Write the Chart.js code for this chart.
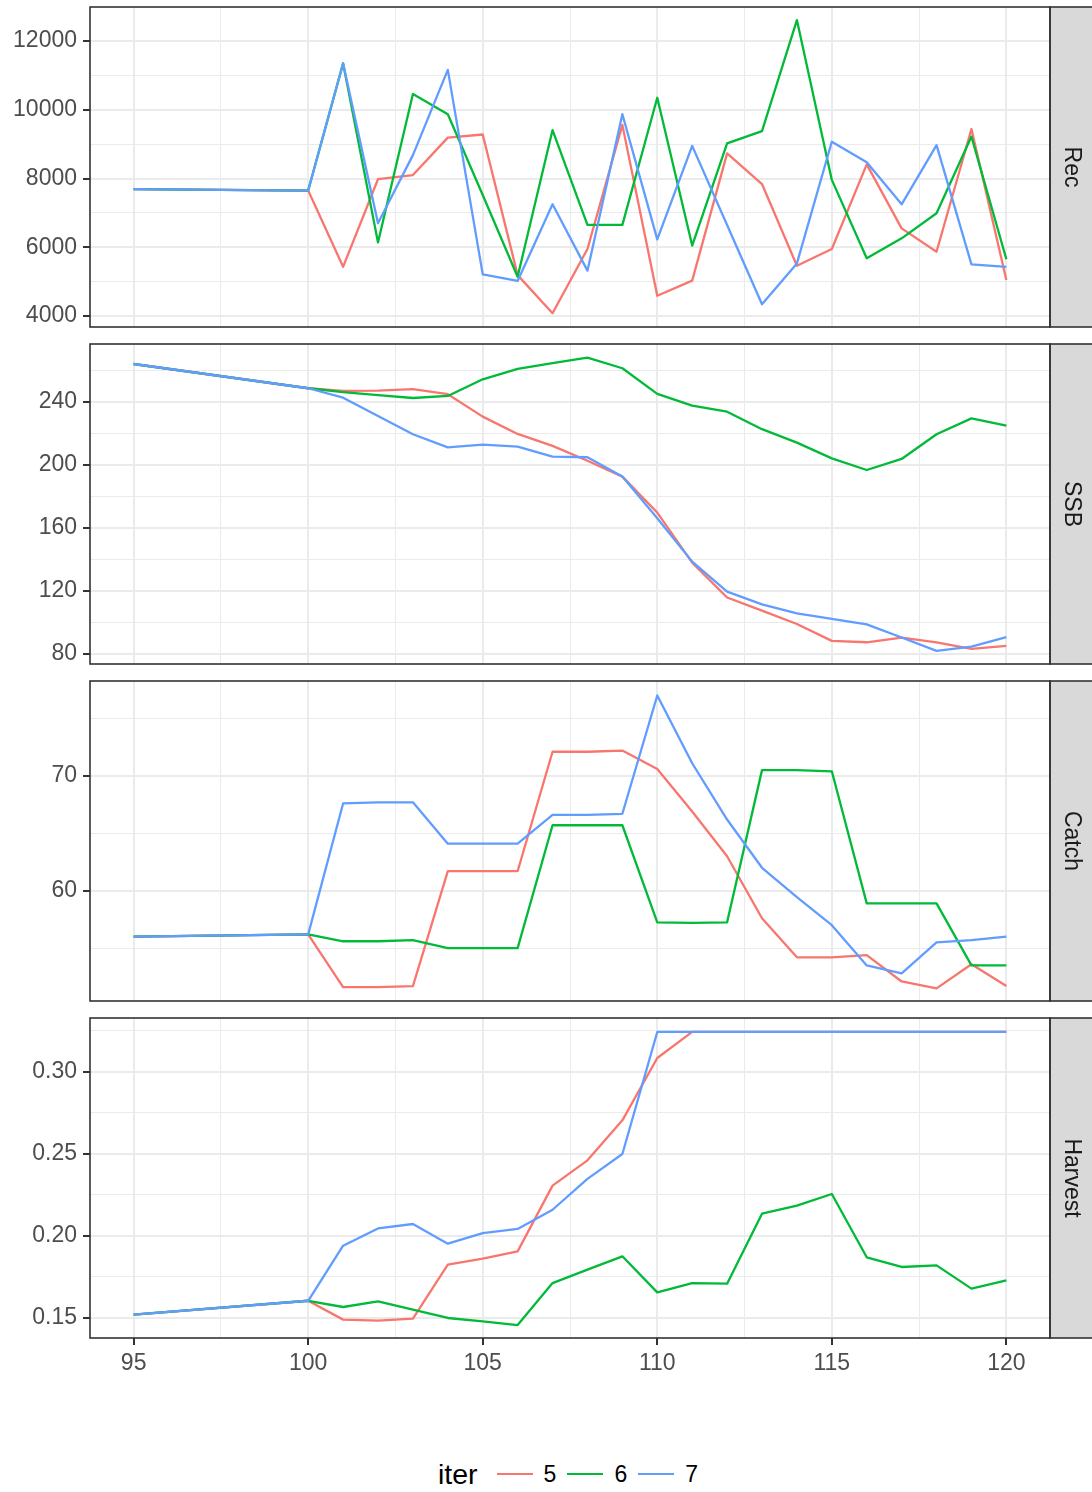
<!DOCTYPE html>
<html>
<head>
<meta charset="utf-8">
<title>iter panels</title>
<script src="https://cdn.jsdelivr.net/npm/chart.js@4.4.1/dist/chart.umd.min.js"></script>
<style>
  body { margin: 0; background: #fff; width: 1092px; height: 1492px; position: relative; overflow: hidden;
         font-family: "Liberation Sans", Arial, sans-serif; }
  canvas { position: absolute; left: 0; }
  #legend { position: absolute; left: 438px; top: 1454px; height: 40px; display: flex; align-items: center; color: #000; }
  #legend .ttl { font-size: 28.5px; margin-right: 19px; }
  #legend .key { width: 36px; height: 2.3px; margin-right: 11px; }
  #legend .lab { font-size: 23px; margin-right: 11px; }
</style>
</head>
<body>
<canvas id="recChart"></canvas>
<canvas id="ssbChart"></canvas>
<canvas id="catchChart"></canvas>
<canvas id="harvestChart"></canvas>
<div id="legend"></div>
<script>
document.addEventListener("DOMContentLoaded", () => {

/* DATA */

const years = [95, 100, 101, 102, 103, 104, 105, 106, 107, 108, 109, 110, 111, 112, 113, 114, 115, 116, 117, 118, 119, 120];
const iters = ["5", "6", "7"];

const rec5 = [7690, 7650, 5430, 7980, 8100, 9190, 9280, 5190, 4080, 5950, 9560, 4590, 5030, 8730, 7840, 5460, 5950, 8410, 6550, 5870, 9440, 5050];
const rec6 = [7690, 7650, 11350, 6140, 10460, 9870, 7520, 5140, 9410, 6650, 6650, 10350, 6050, 9020, 9380, 12610, 7960, 5680, 6260, 6990, 9220, 5650];
const rec7 = [7690, 7650, 11350, 6700, 8680, 11160, 5210, 5020, 7250, 5320, 9870, 6230, 8950, 6650, 4340, 5530, 9070, 8470, 7250, 8970, 5500, 5430];

const ssb5 = [264.1, 248.7, 247.0, 247.2, 248.1, 244.9, 230.7, 219.7, 212.1, 202.7, 192.6, 169.7, 138.0, 115.8, 107.5, 99.0, 88.3, 87.4, 90.4, 87.4, 83.2, 85.1];
const ssb6 = [264.1, 248.7, 246.2, 244.4, 242.5, 243.8, 254.4, 261.0, 264.6, 268.1, 261.4, 245.1, 237.7, 233.8, 222.7, 214.2, 204.2, 196.8, 203.8, 219.5, 229.6, 225.0];
const ssb7 = [264.1, 248.7, 242.7, 231.1, 219.5, 211.2, 212.9, 211.6, 205.3, 204.9, 192.6, 166.2, 138.6, 119.6, 111.5, 105.8, 102.2, 98.8, 90.4, 81.9, 84.6, 90.6];

const catch5 = [56.0, 56.2, 51.6, 51.6, 51.7, 61.7, 61.7, 61.7, 72.1, 72.1, 72.2, 70.6, 66.9, 63.0, 57.6, 54.2, 54.2, 54.4, 52.1, 51.5, 53.6, 51.7];
const catch6 = [56.0, 56.2, 55.6, 55.6, 55.7, 55.0, 55.0, 55.0, 65.7, 65.7, 65.7, 57.25, 57.2, 57.25, 70.5, 70.5, 70.4, 58.9, 58.9, 58.9, 53.5, 53.5];
const catch7 = [56.0, 56.2, 67.6, 67.7, 67.7, 64.1, 64.1, 64.1, 66.6, 66.6, 66.7, 77.0, 71.1, 66.2, 62.0, 59.45, 57.0, 53.5, 52.8, 55.5, 55.7, 56.0];

const harvest5 = [0.152, 0.1605, 0.149, 0.1484, 0.1496, 0.1825, 0.1862, 0.1906, 0.2307, 0.2461, 0.2705, 0.3085, 0.3244, 0.3244, 0.3244, 0.3244, 0.3244, 0.3244, 0.3244, 0.3244, 0.3244, 0.3244];
const harvest6 = [0.152, 0.1605, 0.1567, 0.1601, 0.1551, 0.150, 0.1479, 0.1457, 0.1713, 0.1795, 0.1876, 0.1656, 0.1713, 0.1709, 0.2136, 0.2185, 0.2256, 0.187, 0.1811, 0.1821, 0.1679, 0.1729];
const harvest7 = [0.152, 0.1605, 0.1941, 0.2046, 0.2073, 0.1953, 0.2018, 0.2043, 0.216, 0.2348, 0.25, 0.3244, 0.3244, 0.3244, 0.3244, 0.3244, 0.3244, 0.3244, 0.3244, 0.3244, 0.3244, 0.3244];

const xTicks = [95, 100, 105, 110, 115, 120];
const recTicks = [4000, 6000, 8000, 10000, 12000];
const ssbTicks = [80, 120, 160, 200, 240];
const catchTicks = [60, 70];
const harvestTicks = [0.15, 0.20, 0.25, 0.30];

/* STYLE */

const colors = ["#F8766D", "#00BA38", "#619CFF"];
const FONT = "'Liberation Sans', Arial, sans-serif";
const GRID = "#EBEBEB";
const DARK = "#333333";

Chart.defaults.font.family = FONT;

/* HELPERS */

const isMajor = (majors, v) => majors.some(m => Math.abs(m - v) < 1e-9);

// majors plus the ggplot-style minor breaks halfway between them
function withMinors(majors, min, max) {
    const step = majors[1] - majors[0];
    const all = majors.slice();
    majors.forEach(m => all.push(m - step / 2));
    all.push(majors[majors.length - 1] + step / 2);
    return all.filter(v => v >= min && v <= max).sort((a, b) => a - b);
}

function series(a, b, c) {
    return [a, b, c].map((vals, i) => ({
        label: iters[i],
        data: years.map((x, j) => ({ x: x, y: vals[j] })),
        borderColor: colors[i],
        borderWidth: 2.3,
        borderJoinStyle: "round",
        pointRadius: 0,
        tension: 0,
        fill: false,
        order: 3 - i
    }));
}

/* PANEL FRAME + STRIP */

const stripPlugin = {
    id: "strip",
    afterDraw(chart, args, opts) {
        const { ctx, chartArea: a } = chart;
        const h = a.bottom - a.top;
        ctx.save();
        ctx.fillStyle = "#D9D9D9";
        ctx.fillRect(a.right, a.top, 60, h);
        ctx.strokeStyle = DARK;
        ctx.lineWidth = 1.6;
        ctx.strokeRect(a.right, a.top, 60, h);
        ctx.strokeRect(a.left, a.top, a.right - a.left, h);
        ctx.translate(a.right + 21, a.top + h / 2);
        ctx.rotate(Math.PI / 2);
        ctx.fillStyle = "#1A1A1A";
        ctx.font = "23px " + FONT;
        ctx.textAlign = "center";
        ctx.textBaseline = "middle";
        ctx.fillText(opts.text, 0, 0);
        ctx.restore();
    }
};
Chart.register(stripPlugin);

/* CHART FUNCTION */

function makePanel(id, top, bottom, label, datasets, majors, yMin, yMax, fmt) {
    const canvas = document.getElementById(id);
    const pad = 22;
    const axisH = bottom ? 70 : 0;
    const h = pad + 320 + (bottom ? axisH : pad);
    canvas.width = 1092;
    canvas.height = h;
    canvas.style.width = "1092px";
    canvas.style.height = h + "px";
    canvas.style.top = (top - pad) + "px";

    const xMin = 93.75, xMax = 121.25;

    return new Chart(canvas, {
        type: "line",
        data: { datasets: datasets },
        options: {
            responsive: false,
            animation: false,
            layout: { padding: { top: pad, bottom: bottom ? 0 : pad, left: 0, right: 42 } },
            plugins: {
                legend: { display: false },
                tooltip: { enabled: false },
                strip: { text: label }
            },
            scales: {
                x: {
                    type: "linear",
                    min: xMin,
                    max: xMax,
                    afterBuildTicks: s => { s.ticks = withMinors(xTicks, xMin, xMax).map(v => ({ value: v })); },
                    afterFit: s => { s.height = axisH; },
                    border: { display: false },
                    grid: {
                        color: GRID,
                        lineWidth: c => isMajor(xTicks, c.tick.value) ? 2 : 1,
                        drawTicks: bottom,
                        tickLength: 7,
                        tickWidth: 2,
                        tickColor: c => isMajor(xTicks, c.tick.value) ? DARK : "rgba(0,0,0,0)"
                    },
                    ticks: {
                        display: bottom,
                        autoSkip: false,
                        maxRotation: 0,
                        padding: 5,
                        color: "#4D4D4D",
                        font: { size: 23 },
                        callback: v => isMajor(xTicks, v) ? String(v) : ""
                    }
                },
                y: {
                    min: yMin,
                    max: yMax,
                    afterBuildTicks: s => { s.ticks = withMinors(majors, yMin, yMax).map(v => ({ value: v })); },
                    afterFit: s => { s.width = 90; },
                    border: { display: false },
                    grid: {
                        color: GRID,
                        lineWidth: c => isMajor(majors, c.tick.value) ? 2 : 1,
                        tickLength: 7,
                        tickWidth: 2,
                        tickColor: c => isMajor(majors, c.tick.value) ? DARK : "rgba(0,0,0,0)"
                    },
                    ticks: {
                        autoSkip: false,
                        padding: 6,
                        color: "#4D4D4D",
                        font: { size: 23 },
                        callback: v => isMajor(majors, v) ? fmt(v) : ""
                    }
                }
            }
        }
    });
}

const plain = v => String(v);

makePanel("recChart", 7, false, "Rec", series(rec5, rec6, rec7), recTicks, 3680, 12990, plain);
makePanel("ssbChart", 344, false, "SSB", series(ssb5, ssb6, ssb7), ssbTicks, 73.6, 276.8, plain);
makePanel("catchChart", 681, false, "Catch", series(catch5, catch6, catch7), catchTicks, 50.4, 78.26, plain);
makePanel("harvestChart", 1018, true, "Harvest", series(harvest5, harvest6, harvest7), harvestTicks, 0.1378, 0.3329, v => v.toFixed(2));

/* LEGEND */

const legend = document.getElementById("legend");
legend.innerHTML = '<span class="ttl">iter</span>' + iters.map((it, i) =>
    `<span class="key" style="background:${colors[i]}"></span><span class="lab">${it}</span>`
).join("");

});
</script>
</body>
</html>
